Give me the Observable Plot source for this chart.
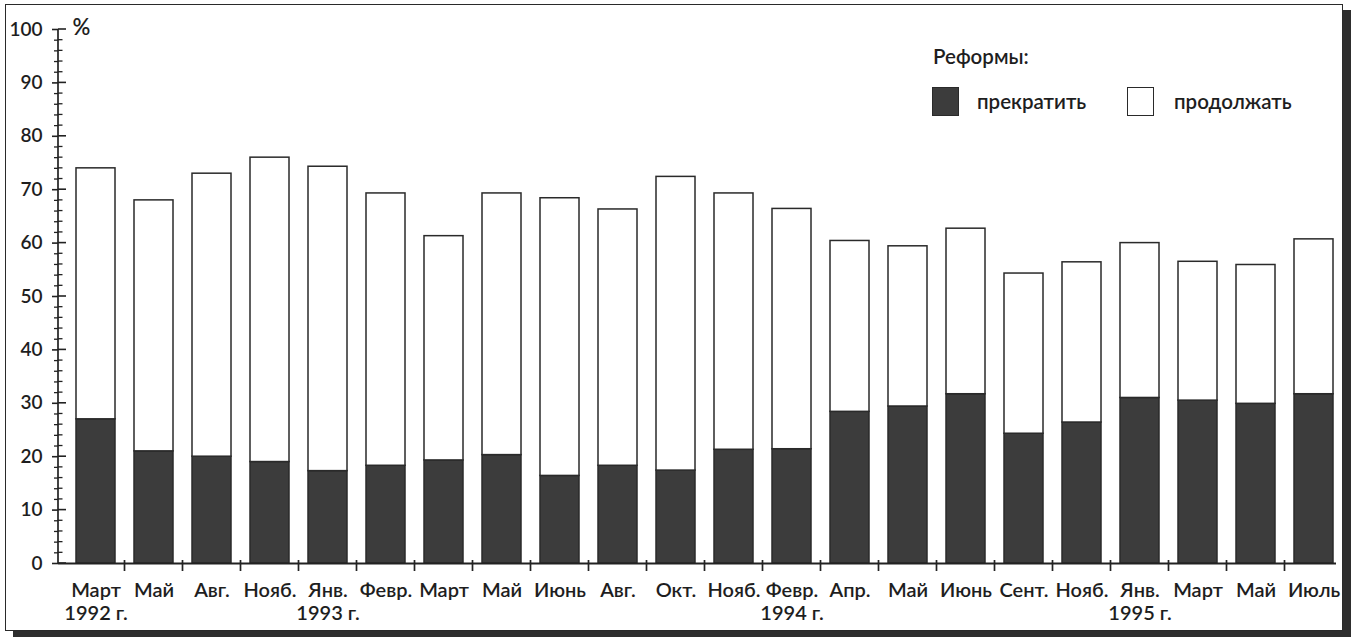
<!DOCTYPE html>
<html>
<head>
<meta charset="utf-8">
<script src="https://cdn.jsdelivr.net/npm/d3@7"></script>
<script src="https://cdn.jsdelivr.net/npm/@observablehq/plot@0.6"></script>
<style>
  html, body { margin: 0; padding: 0; background: #fff; }
  #wrap { position: relative; width: 1356px; height: 638px; overflow: hidden; font-family: Lato, "Noto Sans", sans-serif; color: #1e1e1e; }
  #frame { position: absolute; left: 5px; top: 4px; width: 1336px; height: 625px; border: 1.6px solid #2a2a2a; box-shadow: 8px 6px 0 #2e2e2e; background: #fff; }
  #chart { position: absolute; left: 0; top: 0; }
  .lg { position: absolute; font-size: 20.5px; font-weight: 600; white-space: nowrap; line-height: 1.2; }
  .sw { position: absolute; width: 27px; height: 29px; box-sizing: border-box; border: 1.5px solid #2a2a2a; }
  #chart svg text { font-weight: 600; }
</style>
</head>
<body>
<div id="wrap">
  <div id="frame"></div>
  <div id="chart"></div>
  <div class="lg" style="left:933px; top:44px;">Реформы:</div>
  <div class="sw" style="left:932px; top:87px; background:#3c3c3c;"></div>
  <div class="lg" style="left:977px; top:89px;">прекратить</div>
  <div class="sw" style="left:1127px; top:87px; background:#fff;"></div>
  <div class="lg" style="left:1174px; top:89px;">продолжать</div>
</div>
<script>
// Categories (month of survey) and year labels
const months = ["Март","Май","Авг.","Нояб.","Янв.","Февр.","Март","Май","Июнь","Авг.","Окт.","Нояб.","Февр.","Апр.","Май","Июнь","Сент.","Нояб.","Янв.","Март","Май","Июль"];
const years  = ["1992 г.","","","","1993 г.","","","","","","","","1994 г.","","","","","","1995 г.","","",""];
// Series: "прекратить" (stop reforms) and "продолжать" (continue reforms), %
const stopValues     = [27, 21, 20, 19, 17.3, 18.3, 19.3, 20.3, 16.4, 18.3, 17.4, 21.3, 21.4, 28.4, 29.4, 31.7, 24.3, 26.4, 31, 30.5, 29.9, 31.7];
const continueValues = [47, 47, 53, 57, 57, 51, 42, 49, 52, 48, 55, 48, 45, 32, 30, 31, 30, 30, 29, 26, 26, 29];
const seriesNames = ["прекратить", "продолжать"];
const yMajor = [0,10,20,30,40,50,60,70,80,90,100];
const yMinor = d3.range(0, 101, 2).filter(v => v % 10 !== 0);

const rows = [];
months.forEach((m, i) => {
  rows.push({i, group: seriesNames[0], value: stopValues[i]});
  rows.push({i, group: seriesNames[1], value: continueValues[i]});
});

const idx = months.map((_, i) => i);

// custom mark: y-axis line, right-hand half of the y ticks, and between-bar ticks on the x axis
function axisLines(index, scales, values, dim) {
  const sx = scales.x, sy = scales.y;
  const bw = typeof sx.bandwidth === "function" ? sx.bandwidth() : sx.bandwidth;
  const x0 = dim.marginLeft;
  const g = d3.create("svg:g").attr("stroke", "#222").attr("fill", "none");
  g.append("line").attr("stroke-width", 1.7).attr("x1", x0).attr("x2", x0).attr("y1", sy(0)).attr("y2", sy(100));
  for (const v of yMajor) g.append("line").attr("stroke-width", 1.6).attr("x1", x0).attr("x2", x0 + 8).attr("y1", sy(v)).attr("y2", sy(v));
  for (const v of yMinor) g.append("line").attr("stroke-width", 1.3).attr("x1", x0).attr("x2", x0 + 4.5).attr("y1", sy(v)).attr("y2", sy(v));
  for (let i = 1; i < months.length; i++) {
    const xb = (sx(idx[i - 1]) + bw + sx(idx[i])) / 2;
    g.append("line").attr("stroke-width", 1.7).attr("x1", xb).attr("x2", xb).attr("y1", sy(0) - 3).attr("y2", sy(0) + 8);
  }
  return g.node();
}

const chart = Plot.plot({
  width: 1356,
  height: 638,
  marginLeft: 58,
  marginRight: 20,
  marginTop: 29,
  marginBottom: 75,
  style: {fontFamily: "Lato, 'Noto Sans', sans-serif", background: "transparent", color: "#1e1e1e"},
  x: {type: "band", domain: idx, paddingInner: 0.33, paddingOuter: 0.126, align: 0.86},
  y: {domain: [0, 100]},
  color: {domain: seriesNames, range: ["#3c3c3c", "#ffffff"]},
  marks: [
    Plot.barY(rows, {x: "i", y: "value", fill: "group", stroke: "#2a2a2a", strokeWidth: 1.5, order: seriesNames}),
    Plot.ruleY([0], {stroke: "#222", strokeWidth: 1.8}),
    Plot.axisX({
      tickSize: 0, tickPadding: 17, fontSize: 20, label: null, lineHeight: 1.15,
      tickFormat: i => months[i] + (years[i] ? "\n" + years[i] : "")
    }),
    Plot.axisY({ticks: yMajor, tickSize: 6, tickPadding: 10, fontSize: 19, label: null, strokeWidth: 1.6, stroke: "#222"}),
    Plot.axisY({ticks: yMinor, tickSize: 4, text: null, label: null, strokeWidth: 1.3, stroke: "#222"}),
    Plot.text(["%"], {frameAnchor: "top-left", text: d => d, dx: 14, dy: -10, fontSize: 22, textAnchor: "start", fill: "#1e1e1e"}),
    axisLines
  ]
});
document.getElementById("chart").appendChild(chart);
</script>
</body>
</html>
